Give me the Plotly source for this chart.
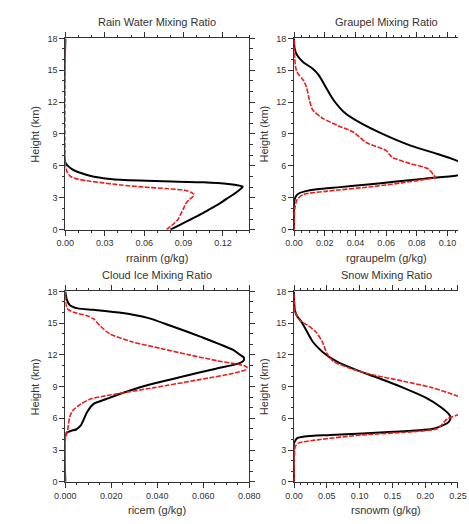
import plotly.graph_objects as go

# ---------------- data (height in km, mixing ratio in g/kg) ----------------
rain_black_h = [0, 0.5, 1.0, 1.5, 2.0, 2.5, 3.0, 3.5, 3.9, 4.05, 4.2, 4.3, 4.45, 4.6, 4.75, 4.95, 5.1, 5.4, 5.7, 6.0, 6.3, 18]
rain_black_v = [0.080, 0.088, 0.096, 0.104, 0.111, 0.118, 0.124, 0.130, 0.134, 0.135, 0.130, 0.124, 0.105, 0.062, 0.036, 0.023, 0.018, 0.010, 0.005, 0.002, 0.0, 0.0]
rain_red_h = [0, 0.3, 0.6, 1.0, 1.5, 2.0, 2.4, 2.8, 3.1, 3.3, 3.5, 3.7, 3.85, 4.0, 4.2, 4.4, 4.6, 4.8, 5.0, 5.4, 5.8, 6.2, 18]
rain_red_v = [0.077, 0.080, 0.083, 0.086, 0.088, 0.090, 0.0915, 0.094, 0.097, 0.098, 0.096, 0.091, 0.078, 0.060, 0.042, 0.029, 0.016, 0.008, 0.004, 0.0015, 0.0003, 0.0, 0.0]

graupel_black_h = [0, 2.5, 2.8, 3.1, 3.4, 3.6, 3.8, 4.0, 4.25, 4.5, 4.8, 5.1, 5.4, 5.7, 6.0, 6.5, 7.14, 7.9, 8.98, 10.06, 11.0, 12.2, 13.45, 14.5, 15.14, 15.76, 16.4, 17.1, 18]
graupel_black_v = [0.0, 0.0, 0.0003, 0.001, 0.003, 0.007, 0.015, 0.030, 0.048, 0.065, 0.085, 0.106, 0.114, 0.116, 0.114, 0.106, 0.093, 0.076, 0.058, 0.043, 0.033, 0.0257, 0.0205, 0.0163, 0.0122, 0.006, 0.002, 0.0003, 0.0]
graupel_red_h = [0, 2.0, 2.83, 3.3, 3.6, 4.06, 4.4, 4.68, 4.92, 5.14, 5.75, 6.2, 6.8, 7.1, 7.45, 8.2, 9.14, 9.76, 10.5, 11.3, 12.2, 13.45, 14.06, 14.8, 15.3, 16.2, 17.0, 18]
graupel_red_v = [0.0, 0.0005, 0.002, 0.006, 0.0205, 0.052, 0.070, 0.083, 0.092, 0.091, 0.087, 0.076, 0.064, 0.062, 0.060, 0.047, 0.039, 0.029, 0.0184, 0.012, 0.010, 0.008, 0.006, 0.002, 0.001, 0.0004, 0.0001, 0.0]

ice_black_h = [0, 4.5, 4.64, 4.82, 4.94, 5.35, 6.59, 7.36, 7.82, 8.28, 9.06, 10.0, 10.67, 11.2, 11.45, 11.75, 12.0, 12.46, 13.7, 14.78, 15.5, 16.0, 16.26, 16.4, 16.7, 17.25, 18]
ice_black_v = [0.0, 0.0, 0.0006, 0.0026, 0.0047, 0.0068, 0.0095, 0.0123, 0.0178, 0.0234, 0.0344, 0.052, 0.065, 0.0755, 0.0775, 0.0776, 0.076, 0.073, 0.059, 0.0455, 0.0358, 0.0234, 0.0123, 0.0054, 0.002, 0.0006, 0.0]
ice_red_h = [0, 4.0, 4.2, 4.89, 6.12, 6.74, 7.36, 7.82, 8.14, 8.9, 9.68, 10.3, 10.6, 10.85, 11.07, 11.38, 12.0, 12.62, 13.24, 14.0, 14.78, 15.4, 15.7, 16.0, 16.3, 16.63, 17.2, 18]
ice_red_v = [0.0, 0.0, 0.0002, 0.001, 0.0019, 0.0033, 0.0068, 0.0109, 0.0178, 0.0386, 0.059, 0.074, 0.0785, 0.079, 0.076, 0.0676, 0.0538, 0.0413, 0.0289, 0.0192, 0.015, 0.0123, 0.0095, 0.004, 0.0012, 0.0004, 0.0001, 0.0]

snow_black_h = [0, 3.7, 3.8, 4.1, 4.27, 4.42, 4.73, 5.04, 5.66, 6.12, 6.4, 7.05, 7.97, 8.9, 9.83, 10.6, 11.38, 12.3, 13.24, 14.3, 15.1, 15.7, 16.33, 17.0, 18]
snow_black_v = [0.0, 0.0, 0.001, 0.0043, 0.016, 0.055, 0.1517, 0.2145, 0.236, 0.2386, 0.236, 0.224, 0.200, 0.166, 0.1275, 0.0937, 0.0648, 0.043, 0.0285, 0.0188, 0.0116, 0.0043, 0.001, 0.0002, 0.0]
snow_red_h = [0, 2.4, 3.34, 3.65, 3.96, 4.42, 4.73, 5.04, 5.97, 6.28, 6.8, 7.3, 7.8, 8.13, 8.9, 9.52, 10.14, 10.76, 11.38, 12.15, 13.24, 14.16, 14.78, 15.24, 16.0, 17.0, 18]
snow_red_v = [0.0, 0.0005, 0.002, 0.0068, 0.036, 0.103, 0.181, 0.219, 0.234, 0.248, 0.262, 0.266, 0.260, 0.248, 0.210, 0.166, 0.118, 0.084, 0.060, 0.050, 0.043, 0.0333, 0.0213, 0.009, 0.002, 0.0003, 0.0]

panel_titles = ["Rain Water Mixing Ratio", "Graupel Mixing Ratio", "Cloud Ice Mixing Ratio", "Snow Mixing Ratio"]
x_titles = ["rrainm (g/kg)", "rgraupelm (g/kg)", "ricem (g/kg)", "rsnowm (g/kg)"]
y_title = "Height (km)"
y_ticks = [0, 3, 6, 9, 12, 15, 18]

# ---------------- figure ----------------
W, H = 469, 524
FONT = "Liberation Sans, Arial, Helvetica, sans-serif"
AX = "#333333"
TXT = "#333333"

panels = [
    dict(bh=rain_black_h, bv=rain_black_v, rh=rain_red_h, rv=rain_red_v,
         px=(57, 250), py=(34, 229), rng=[0, 0.14], dt=0.03, mdt=0.01, fmt=".2f", ymirror=True, cx=153.5),
    dict(bh=graupel_black_h, bv=graupel_black_v, rh=graupel_red_h, rv=graupel_red_v,
         px=(297, 469), py=(34, 229), rng=[0, (469 - 297) / 1610.0], dt=0.02, mdt=0.005, fmt=".2f", ymirror=False, cx=393.5),
    dict(bh=ice_black_h, bv=ice_black_v, rh=ice_red_h, rv=ice_red_v,
         px=(57, 250), py=(292, 486), rng=[0, 0.08], dt=0.02, mdt=0.005, fmt=".3f", ymirror=True, cx=153.5),
    dict(bh=snow_black_h, bv=snow_black_v, rh=snow_red_h, rv=snow_red_v,
         px=(297, 469), py=(292, 486), rng=[0, 0.25], dt=0.05, mdt=0.01, fmt=".2f", ymirror=False, cx=393.5),
]

fig = go.Figure()
layout = dict(width=W, height=H, margin=dict(l=0, r=0, t=0, b=0),
              paper_bgcolor="white", plot_bgcolor="white", showlegend=False,
              font=dict(family=FONT, color=TXT))
annotations = []

for i, p in enumerate(panels):
    n = "" if i == 0 else str(i + 1)
    xa, ya = "x" + n, "y" + n
    fig.add_trace(go.Scatter(x=p["bv"], y=p["bh"], mode="lines", xaxis=xa, yaxis=ya,
                             line=dict(color="black", width=2, shape="spline", smoothing=0.7), cliponaxis=True))
    fig.add_trace(go.Scatter(x=p["rv"], y=p["rh"], mode="lines", xaxis=xa, yaxis=ya,
                             line=dict(color="#e8201c", width=1.6, dash="5px,1.5px", shape="spline", smoothing=0.7),
                             cliponaxis=True))
    x0, x1 = p["px"]
    y0, y1 = p["py"]
    layout["xaxis" + n] = dict(
        domain=[x0 / W, x1 / W], anchor=ya, range=p["rng"], dtick=p["dt"], tick0=0,
        tickformat=p["fmt"], showgrid=False, zeroline=False, showline=True, linecolor=AX, linewidth=1,
        mirror="ticks", ticks="outside", ticklen=5, tickwidth=1, tickcolor=AX,
        tickfont=dict(size=9, color=TXT),
        minor=dict(dtick=p["mdt"], tick0=0, ticks="outside", ticklen=2.5, tickcolor=AX, showgrid=False),
    )
    layout["yaxis" + n] = dict(
        domain=[1 - y1 / H, 1 - y0 / H], anchor=xa, range=[0, 18], tickvals=y_ticks,
        showgrid=False, zeroline=False, showline=True, linecolor=AX, linewidth=1,
        mirror="ticks" if p["ymirror"] else False, ticks="outside", ticklen=5, tickwidth=1, tickcolor=AX,
        tickfont=dict(size=9, color=TXT),
        minor=dict(dtick=1, tick0=0, ticks="outside", ticklen=2.5, tickcolor=AX, showgrid=False),
    )
    annotations.append(dict(text=panel_titles[i], x=p["cx"] / W, y=1 - (y0 - 17) / H,
                            xref="paper", yref="paper", showarrow=False, xanchor="center", yanchor="middle",
                            font=dict(size=11, color=TXT, family=FONT)))
    annotations.append(dict(text=x_titles[i], x=p["cx"] / W, y=1 - (y1 + 29) / H,
                            xref="paper", yref="paper", showarrow=False, xanchor="center", yanchor="middle",
                            font=dict(size=11, color=TXT, family=FONT)))
    annotations.append(dict(text=y_title, x=(x0 - 32) / W, y=1 - ((y0 + y1) / 2) / H,
                            xref="paper", yref="paper", showarrow=False, xanchor="center", yanchor="middle",
                            textangle=-90, font=dict(size=11, color=TXT, family=FONT)))

layout["annotations"] = annotations
fig.update_layout(**layout)
fig.write_html("out.html")
